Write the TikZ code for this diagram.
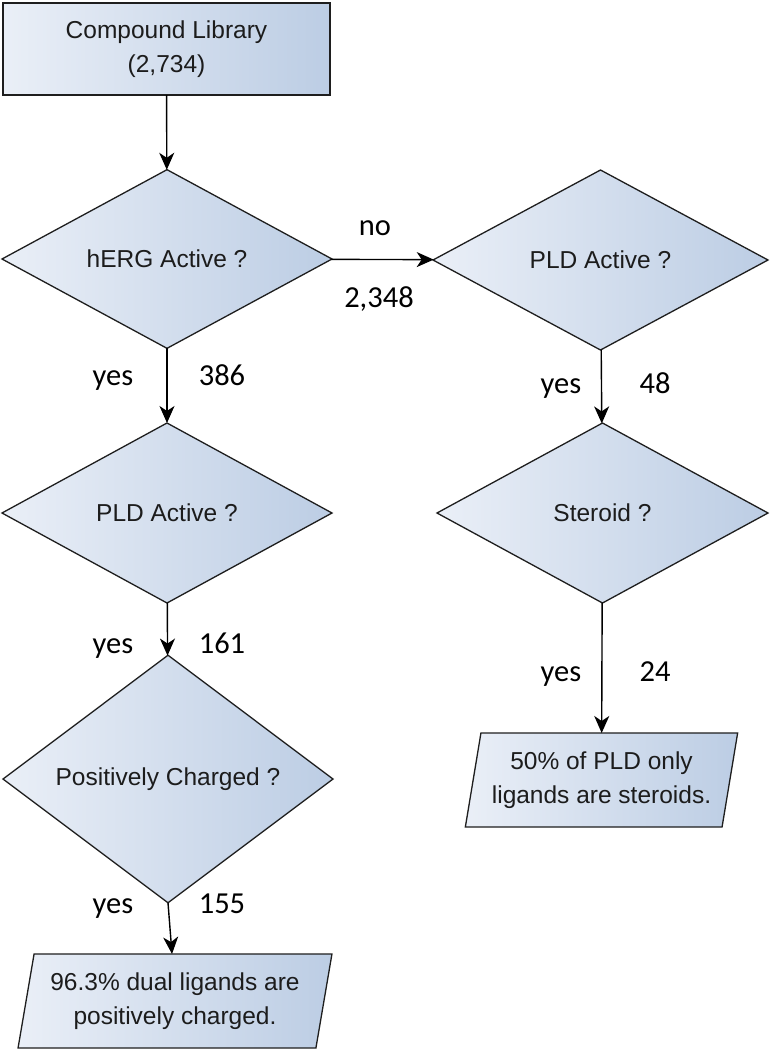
\documentclass[tikz,border=0pt]{standalone}
\usepackage{fontspec}
\setmainfont{Liberation Sans}
\newfontfamily\labfont{Carlito}
\usetikzlibrary{shapes.geometric,arrows.meta}
\definecolor{shadeL}{RGB}{234,239,247}
\definecolor{shadeR}{RGB}{188,205,228}
\definecolor{edge}{RGB}{30,30,30}
\definecolor{txt}{RGB}{28,28,28}
\tikzset{
  base/.style={draw=edge, line width=1.3pt, left color=shadeL, right color=shadeR,
    text=txt, font=\fontsize{24.5}{34}\selectfont, align=center, inner sep=0pt, outer sep=0pt},
  startbox/.style={base, rectangle, line width=2pt, minimum width=327pt, minimum height=92pt},
  decision/.style={base, diamond, minimum width=330pt, minimum height=180pt},
  outbox/.style={base, trapezium, trapezium left angle=76, trapezium right angle=104,
    trapezium stretches=true, minimum width=314pt, minimum height=94pt},
  conn/.style={line width=1.4pt, -{Stealth[length=17pt,width=15pt,inset=5pt]}},
  lab/.style={font=\labfont\fontsize{30.5}{34}\selectfont, text=black, inner sep=0pt, anchor=base}
}
\begin{document}
\begin{tikzpicture}[x=1pt,y=-1pt]
\useasboundingbox (0,0) rectangle (770,1050);
\fill[white] (0,0) rectangle (770,1050);
\node[startbox] (lib) at (166.5,49) {Compound Library\\(2,734)};
\node[decision, minimum height=158pt] (herg) at (167,259) {hERG Active ?};
\node[decision, minimum width=335pt] (pldr) at (600.5,260) {PLD Active ?};
\node[decision] (pldl) at (167,513) {PLD Active ?};
\node[decision, minimum width=331pt] (ster) at (602.5,513) {Steroid ?};
\node[decision] (pos) at (168,779) {Positively Charged ?};
\node[outbox] (out1) at (175,1001) {96.3\% dual ligands are\\positively charged.};
\node[outbox, minimum width=273pt] (out2) at (601.5,780) {50\% of PLD only\\ligands are steroids.};

\draw[conn] (lib) -- (herg);
\draw[conn] (herg) -- (pldr);
\draw[conn] (herg) -- (pldl);
\draw[conn] (pldl) -- (pos);
\draw[conn] (pos.south) -- ([xshift=-3pt]out1.north);
\draw[conn] (pldr) -- (ster);
\draw[conn] (ster) -- (out2);

\node[lab] (tno) at (375,235) {no};
\node[lab] (t2348) at (379,307) {2,348};
\node[lab] (ty1) at (113,385) {yes};
\node[lab] (t386) at (222,385) {386};
\node[lab] (ty2) at (113,653) {yes};
\node[lab] (t161) at (222,653) {161};
\node[lab] (ty3) at (113,913) {yes};
\node[lab] (t155) at (222,913) {155};
\node[lab] (ty4) at (561,393) {yes};
\node[lab] (t48) at (655,393) {48};
\node[lab] (ty5) at (561,681) {yes};
\node[lab] (t24) at (655,681) {24};
\end{tikzpicture}
\end{document}
